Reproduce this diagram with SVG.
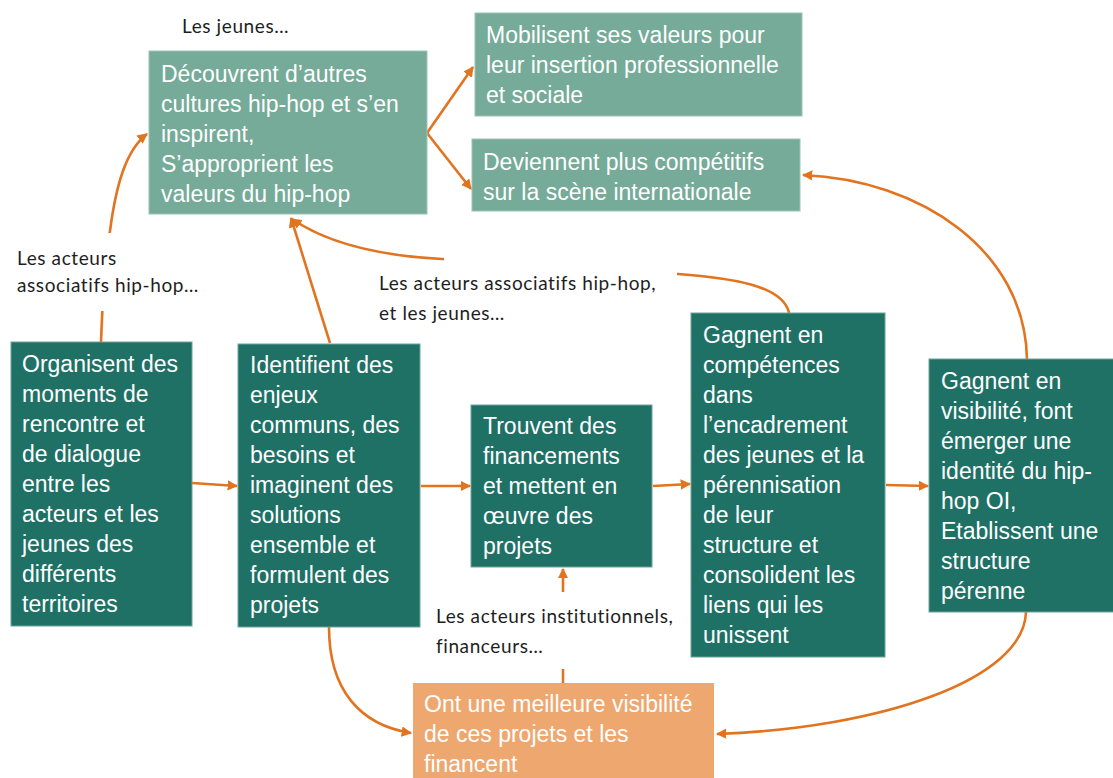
<svg xmlns="http://www.w3.org/2000/svg" width="1113" height="778" viewBox="0 0 1113 778">
<defs>
<style>
.light{fill:#75ab98;stroke:#9cc4b5;stroke-width:1}
.dark{fill:#1f7166;stroke:#6fa399;stroke-width:1}
.orange{fill:#eea76f}
.bt{font-family:"Liberation Sans",Arial,sans-serif;font-size:23px;fill:#ffffff}
.lbl{font-family:Lato,"Noto Sans",sans-serif;font-size:19px;letter-spacing:0.6px;fill:#1e1e1e}
.lblbg{fill:#ffffff}
.con{fill:none;stroke:#e2731f;stroke-width:2.6}
</style>
<marker id="ah" viewBox="0 0 10 10" refX="9" refY="5" markerWidth="4" markerHeight="4" orient="auto" markerUnits="strokeWidth">
<path d="M0,0 L10,5 L0,10 z" fill="#e2731f"/>
</marker>
</defs>
<rect width="1113" height="778" fill="#ffffff"/>

<g id="connectors">
<path class="con" d="M101,342 C103,290 106,250 110,231 C116,185 126,150 147,134" marker-end="url(#ah)"/>
<path class="con" d="M330,343 L291,218" marker-end="url(#ah)"/>
<path class="con" d="M789,313 C783,285 730,278 678,274 S500,262 442,259 S330,245 292,219" marker-end="url(#ah)"/>
<path class="con" d="M427,133 L473,67" marker-end="url(#ah)"/>
<path class="con" d="M427,133 L471,189" marker-end="url(#ah)"/>
<path class="con" d="M192,483 L237,486" marker-end="url(#ah)"/>
<path class="con" d="M421,486 L470,486" marker-end="url(#ah)"/>
<path class="con" d="M653,486 L690,484" marker-end="url(#ah)"/>
<path class="con" d="M886,485 L928,486" marker-end="url(#ah)"/>
<path class="con" d="M1027,359 C1025,250 920,180 803,175" marker-end="url(#ah)"/>
<path class="con" d="M1026,612 C1024,680 880,728 717,734" marker-end="url(#ah)"/>
<path class="con" d="M329,627 C329,690 360,725 411,733" marker-end="url(#ah)"/>
<path class="con" d="M563,683 L563,569" marker-end="url(#ah)"/>
</g>

<g id="label-jeunes">
<text class="lbl" x="182" y="33">Les jeunes…</text>
</g>
<g id="label-acteurs-asso">
<rect class="lblbg" x="15" y="233" width="182" height="78"/>
<text class="lbl" x="17" y="265">Les acteurs</text>
<text class="lbl" x="17" y="292">associatifs hip-hop…</text>
</g>
<g id="label-acteurs-jeunes">
<rect class="lblbg" x="444" y="256" width="233" height="76"/>
<text class="lbl" x="379" y="290">Les acteurs associatifs hip-hop,</text>
<text class="lbl" x="379" y="320">et les jeunes…</text>
</g>
<g id="label-institutionnels">
<rect class="lblbg" x="432" y="592" width="256" height="77"/>
<text class="lbl" x="436" y="623">Les acteurs institutionnels,</text>
<text class="lbl" x="436" y="653">financeurs…</text>
</g>

<g id="node-decouvrent">
<rect class="light" x="149" y="51" width="278" height="163"/>
<text class="bt" x="161" y="82">Découvrent d’autres</text>
<text class="bt" x="161" y="112">cultures hip-hop et s’en</text>
<text class="bt" x="161" y="142">inspirent,</text>
<text class="bt" x="161" y="172">S’approprient les</text>
<text class="bt" x="161" y="202">valeurs du hip-hop</text>
</g>
<g id="node-mobilisent">
<rect class="light" x="475" y="13" width="327" height="103"/>
<text class="bt" x="486" y="43">Mobilisent ses valeurs pour</text>
<text class="bt" x="486" y="73">leur insertion professionnelle</text>
<text class="bt" x="486" y="103">et sociale</text>
</g>
<g id="node-deviennent">
<rect class="light" x="472" y="139" width="328" height="72"/>
<text class="bt" x="483" y="170">Deviennent plus compétitifs</text>
<text class="bt" x="483" y="200">sur la scène internationale</text>
</g>
<g id="node-organisent">
<rect class="dark" x="11" y="342" width="181" height="284"/>
<text class="bt" x="22" y="372">Organisent des</text>
<text class="bt" x="22" y="402">moments de</text>
<text class="bt" x="22" y="432">rencontre et</text>
<text class="bt" x="22" y="462">de dialogue</text>
<text class="bt" x="22" y="492">entre les</text>
<text class="bt" x="22" y="522">acteurs et les</text>
<text class="bt" x="22" y="552">jeunes des</text>
<text class="bt" x="22" y="582">différents</text>
<text class="bt" x="22" y="612">territoires</text>
</g>
<g id="node-identifient">
<rect class="dark" x="238" y="344" width="182" height="283"/>
<text class="bt" x="250" y="373">Identifient des</text>
<text class="bt" x="250" y="403">enjeux</text>
<text class="bt" x="250" y="433">communs, des</text>
<text class="bt" x="250" y="463">besoins et</text>
<text class="bt" x="250" y="493">imaginent des</text>
<text class="bt" x="250" y="523">solutions</text>
<text class="bt" x="250" y="553">ensemble et</text>
<text class="bt" x="250" y="583">formulent des</text>
<text class="bt" x="250" y="613">projets</text>
</g>
<g id="node-trouvent">
<rect class="dark" x="471" y="405" width="181" height="162"/>
<text class="bt" x="483" y="434">Trouvent des</text>
<text class="bt" x="483" y="464">financements</text>
<text class="bt" x="483" y="494">et mettent en</text>
<text class="bt" x="483" y="524">œuvre des</text>
<text class="bt" x="483" y="554">projets</text>
</g>
<g id="node-competences">
<rect class="dark" x="691" y="313" width="194" height="344"/>
<text class="bt" x="703" y="343">Gagnent en</text>
<text class="bt" x="703" y="373">compétences</text>
<text class="bt" x="703" y="403">dans</text>
<text class="bt" x="703" y="433">l’encadrement</text>
<text class="bt" x="703" y="463">des jeunes et la</text>
<text class="bt" x="703" y="493">pérennisation</text>
<text class="bt" x="703" y="523">de leur</text>
<text class="bt" x="703" y="553">structure et</text>
<text class="bt" x="703" y="583">consolident les</text>
<text class="bt" x="703" y="613">liens qui les</text>
<text class="bt" x="703" y="643">unissent</text>
</g>
<g id="node-visibilite">
<rect class="dark" x="929" y="359" width="190" height="253"/>
<text class="bt" x="941" y="389">Gagnent en</text>
<text class="bt" x="941" y="419">visibilité, font</text>
<text class="bt" x="941" y="449">émerger une</text>
<text class="bt" x="941" y="479">identité du hip-</text>
<text class="bt" x="941" y="509">hop OI,</text>
<text class="bt" x="941" y="539">Etablissent une</text>
<text class="bt" x="941" y="569">structure</text>
<text class="bt" x="941" y="599">pérenne</text>
</g>
<g id="node-financent">
<rect class="orange" x="413" y="683" width="301" height="100"/>
<text class="bt" x="424" y="712">Ont une meilleure visibilité</text>
<text class="bt" x="424" y="742">de ces projets et les</text>
<text class="bt" x="424" y="772">financent</text>
</g>
</svg>
